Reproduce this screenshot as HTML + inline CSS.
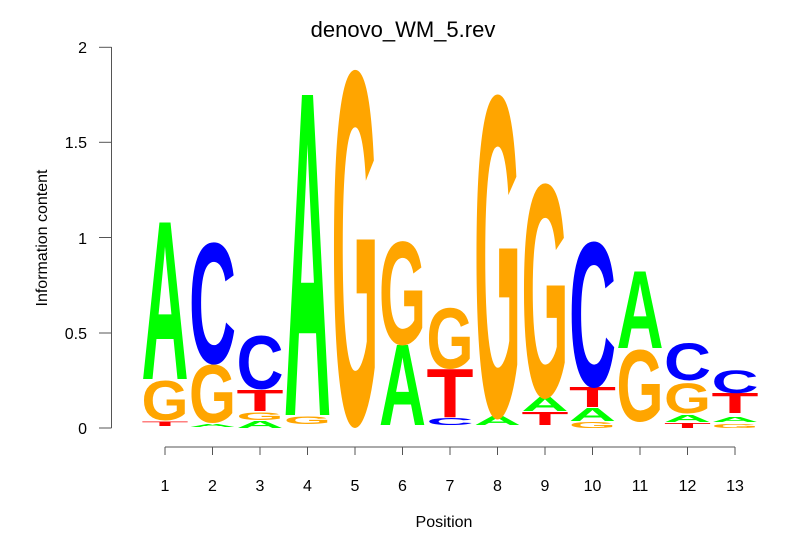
<!DOCTYPE html>
<html><head><meta charset="utf-8"><style>
html,body{margin:0;padding:0;background:#fff}
svg{display:block}
.l{font-family:"Liberation Sans",sans-serif;font-weight:bold;font-size:100px}
.t{font-family:"Liberation Sans",sans-serif;fill:#000}
</style></head><body>
<svg width="806" height="559" viewBox="0 0 806 559" xmlns="http://www.w3.org/2000/svg">
<text class="t" x="403" y="37" font-size="22" text-anchor="middle">denovo_WM_5.rev</text>
<g stroke="#555" stroke-width="1" fill="none">
<line x1="111.5" y1="47" x2="111.5" y2="428"/>
<line x1="99" y1="428" x2="111.5" y2="428"/>
<line x1="99" y1="333" x2="111.5" y2="333"/>
<line x1="99" y1="237.5" x2="111.5" y2="237.5"/>
<line x1="99" y1="142.3" x2="111.5" y2="142.3"/>
<line x1="99" y1="47.3" x2="111.5" y2="47.3"/>
<line x1="165" y1="447" x2="735" y2="447"/>
<line x1="165" y1="447" x2="165" y2="455"/><line x1="212.5" y1="447" x2="212.5" y2="455"/><line x1="260" y1="447" x2="260" y2="455"/><line x1="307.5" y1="447" x2="307.5" y2="455"/><line x1="355" y1="447" x2="355" y2="455"/><line x1="402.5" y1="447" x2="402.5" y2="455"/><line x1="450" y1="447" x2="450" y2="455"/><line x1="497.5" y1="447" x2="497.5" y2="455"/><line x1="545" y1="447" x2="545" y2="455"/><line x1="592.5" y1="447" x2="592.5" y2="455"/><line x1="640" y1="447" x2="640" y2="455"/><line x1="687.5" y1="447" x2="687.5" y2="455"/><line x1="735" y1="447" x2="735" y2="455"/>
</g>
<g class="t" font-size="16" text-anchor="end">
<text x="87" y="434">0</text><text x="87" y="339">0.5</text><text x="87" y="244">1</text><text x="87" y="148">1.5</text><text x="87" y="53">2</text>
</g>
<g class="t" font-size="16" text-anchor="middle">
<text x="165" y="491">1</text><text x="212.5" y="491">2</text><text x="260" y="491">3</text><text x="307.5" y="491">4</text><text x="355" y="491">5</text><text x="402.5" y="491">6</text><text x="450" y="491">7</text><text x="497.5" y="491">8</text><text x="545" y="491">9</text><text x="592.5" y="491">10</text><text x="640" y="491">11</text><text x="687.5" y="491">12</text><text x="735" y="491">13</text>
<text x="444" y="527">Position</text>
<text transform="translate(47,238) rotate(-90)">Information content</text>
</g>
<g class="l">
<text fill="#FF0000" textLength="100" lengthAdjust="spacingAndGlyphs" transform="translate(141.5,426) scale(0.47,0.063)">T</text>
<text fill="#FFA500" textLength="100" lengthAdjust="spacingAndGlyphs" transform="translate(141.5,420) scale(0.47,0.567)">G</text>
<text fill="#00FF00" textLength="100" lengthAdjust="spacingAndGlyphs" transform="translate(141.5,379) scale(0.47,2.275)">A</text>

<text fill="#00FF00" textLength="100" lengthAdjust="spacingAndGlyphs" transform="translate(189,427) scale(0.47,0.044)">A</text>
<text fill="#FFA500" textLength="100" lengthAdjust="spacingAndGlyphs" transform="translate(189,422) scale(0.47,0.822)">G</text>
<text fill="#0000FF" textLength="100" lengthAdjust="spacingAndGlyphs" transform="translate(189,363) scale(0.47,1.728)">C</text>

<text fill="#00FF00" textLength="100" lengthAdjust="spacingAndGlyphs" transform="translate(236.5,428) scale(0.47,0.101)">A</text>
<text fill="#FFA500" textLength="100" lengthAdjust="spacingAndGlyphs" transform="translate(236.5,420) scale(0.47,0.113)">G</text>
<text fill="#FF0000" textLength="100" lengthAdjust="spacingAndGlyphs" transform="translate(236.5,411) scale(0.47,0.305)">T</text>
<text fill="#0000FF" textLength="100" lengthAdjust="spacingAndGlyphs" transform="translate(236.5,389) scale(0.47,0.765)">C</text>

<text fill="#FFA500" textLength="100" lengthAdjust="spacingAndGlyphs" transform="translate(284,424) scale(0.47,0.113)">G</text>
<text fill="#00FF00" textLength="100" lengthAdjust="spacingAndGlyphs" transform="translate(284,415) scale(0.47,4.652)">A</text>

<text fill="#FFA500" textLength="100" lengthAdjust="spacingAndGlyphs" transform="translate(331.5,423) scale(0.47,5.057)">G</text>

<text fill="#00FF00" textLength="100" lengthAdjust="spacingAndGlyphs" transform="translate(379,425) scale(0.47,1.159)">A</text>
<text fill="#FFA500" textLength="100" lengthAdjust="spacingAndGlyphs" transform="translate(379,344) scale(0.47,1.473)">G</text>

<text fill="#0000FF" textLength="100" lengthAdjust="spacingAndGlyphs" transform="translate(426.5,425) scale(0.47,0.099)">C</text>
<text fill="#FF0000" textLength="100" lengthAdjust="spacingAndGlyphs" transform="translate(426.5,417) scale(0.47,0.696)">T</text>
<text fill="#FFA500" textLength="100" lengthAdjust="spacingAndGlyphs" transform="translate(426.5,368) scale(0.47,0.864)">G</text>

<text fill="#00FF00" textLength="100" lengthAdjust="spacingAndGlyphs" transform="translate(474,425) scale(0.47,0.130)">A</text>
<text fill="#FFA500" textLength="100" lengthAdjust="spacingAndGlyphs" transform="translate(474,415) scale(0.47,4.59)">G</text>

<text fill="#FF0000" textLength="100" lengthAdjust="spacingAndGlyphs" transform="translate(521.5,425) scale(0.47,0.189)">T</text>
<text fill="#00FF00" textLength="100" lengthAdjust="spacingAndGlyphs" transform="translate(521.5,411) scale(0.47,0.202)">A</text>
<text fill="#FFA500" textLength="100" lengthAdjust="spacingAndGlyphs" transform="translate(521.5,396) scale(0.47,3.046)">G</text>

<text fill="#FFA500" textLength="100" lengthAdjust="spacingAndGlyphs" transform="translate(569,428) scale(0.47,0.085)">G</text>
<text fill="#00FF00" textLength="100" lengthAdjust="spacingAndGlyphs" transform="translate(569,421) scale(0.47,0.189)">A</text>
<text fill="#FF0000" textLength="100" lengthAdjust="spacingAndGlyphs" transform="translate(569,407) scale(0.47,0.290)">T</text>
<text fill="#0000FF" textLength="100" lengthAdjust="spacingAndGlyphs" transform="translate(569,386) scale(0.47,2.069)">C</text>

<text fill="#FFA500" textLength="100" lengthAdjust="spacingAndGlyphs" transform="translate(616.5,421) scale(0.47,1.02)">G</text>
<text fill="#00FF00" textLength="100" lengthAdjust="spacingAndGlyphs" transform="translate(616.5,348) scale(0.47,1.115)">A</text>

<text fill="#FF0000" textLength="100" lengthAdjust="spacingAndGlyphs" transform="translate(664,428) scale(0.47,0.073)">T</text>
<text fill="#00FF00" textLength="100" lengthAdjust="spacingAndGlyphs" transform="translate(664,422) scale(0.47,0.101)">A</text>
<text fill="#FFA500" textLength="100" lengthAdjust="spacingAndGlyphs" transform="translate(664,413) scale(0.47,0.425)">G</text>
<text fill="#0000FF" textLength="100" lengthAdjust="spacingAndGlyphs" transform="translate(664,380) scale(0.47,0.524)">C</text>

<text fill="#FFA500" textLength="100" lengthAdjust="spacingAndGlyphs" transform="translate(711.5,428) scale(0.47,0.057)">G</text>
<text fill="#00FF00" textLength="100" lengthAdjust="spacingAndGlyphs" transform="translate(711.5,422) scale(0.47,0.072)">A</text>
<text fill="#FF0000" textLength="100" lengthAdjust="spacingAndGlyphs" transform="translate(711.5,413) scale(0.47,0.290)">T</text>
<text fill="#0000FF" textLength="100" lengthAdjust="spacingAndGlyphs" transform="translate(711.5,393) scale(0.47,0.325)">C</text>
</g>
</svg>
</body></html>
